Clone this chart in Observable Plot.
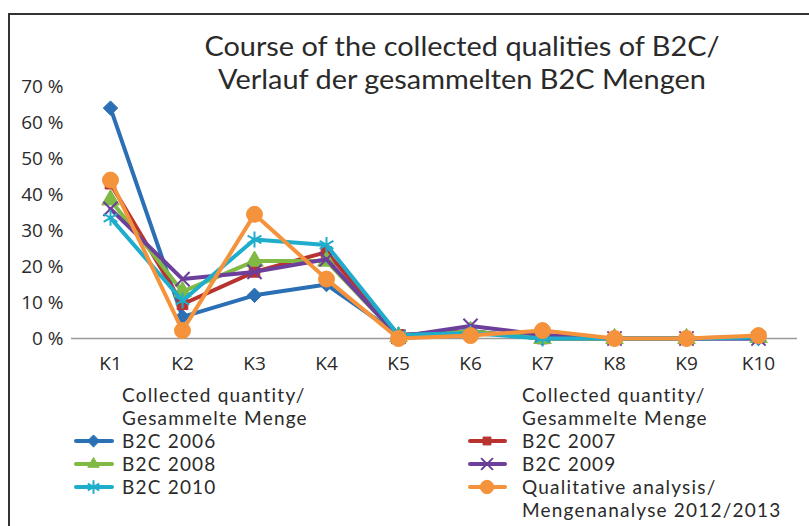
<!DOCTYPE html>
<html>
<head>
<meta charset="utf-8">
<script src="https://cdn.jsdelivr.net/npm/d3@7"></script>
<script src="https://cdn.jsdelivr.net/npm/@observablehq/plot@0.6"></script>
<style>
  html, body { margin: 0; padding: 0; background: #fff; }
  #wrap { position: relative; width: 809px; height: 526px; overflow: hidden; font-family: Lato, "Open Sans", sans-serif; color: #2a2a2a; }
  #frame { position: absolute; left: 8px; top: 13px; width: 900px; height: 600px; border: 2px solid #333; box-sizing: border-box; }
  #title { position: absolute; left: 0; width: 924px; top: 30px; text-align: center; font-family: Lato, sans-serif; font-size: 27px; line-height: 32.5px; transform-origin: 462px 0; transform: scaleX(1.07); }
  #chart { position: absolute; left: 0; top: 0; }
  .leg { position: absolute; font-family: Lato, sans-serif; font-size: 19px; line-height: 23px; letter-spacing: 1.2px; }
  .leg .row { display: flex; align-items: center; height: 23px; white-space: nowrap; }
  .leg svg { flex: none; }
</style>
</head>
<body>
<div id="wrap">
  <div id="frame"></div>
  <div id="chart"></div>
  <div id="title">Course of the collected qualities of B2C/<br>Verlauf der gesammelten B2C Mengen</div>
  <div class="leg" id="legL" style="left:74px; top:383px;"></div>
  <div class="leg" id="legR" style="left:468px; top:383px;"></div>
</div>
<script>
const categories = ["K1", "K2", "K3", "K4", "K5", "K6", "K7", "K8", "K9", "K10"];
const seriesNames = ["B2C 2006", "B2C 2007", "B2C 2008", "B2C 2009", "B2C 2010", "Qualitative analysis/ Mengenanalyse 2012/2013"];
const b2c2006 = [64, 6, 12, 15, 1, 2, 0, 0, 0, 0];
const b2c2007 = [43, 9.5, 18.5, 24, 1, 2, 0, 0, 0, 0.5];
const b2c2008 = [38.5, 13, 21.5, 21.5, 0.5, 2, 0, 0, 0, 0.3];
const b2c2009 = [36, 16.5, 18.5, 22, 0.5, 3.5, 1, 0, 0, 0];
const b2c2010 = [33.5, 10.5, 27.5, 26, 1, 1.5, 0, 0, 0, 0.3];
const qualitative = [44, 2.2, 34.5, 16.5, 0, 0.8, 2.2, 0, 0, 0.8];
const yTicks = [0, 10, 20, 30, 40, 50, 60, 70];
const legendHeader = ["Collected quantity/", "Gesammelte Menge"];

const styles = [
  {color: "#2b70b5", symbol: "diamond2", r: 6.5, filled: true},
  {color: "#b83330", symbol: "square", r: 6, filled: true},
  {color: "#80b944", symbol: "triangle", r: 6.5, filled: true},
  {color: "#6b3f9b", symbol: "times", r: 6.5, filled: false},
  {color: "#1eaecb", symbol: "asterisk", r: 7.5, filled: false},
  {color: "#f5933d", symbol: "circle", r: 8, filled: true}
];
const values = [b2c2006, b2c2007, b2c2008, b2c2009, b2c2010, qualitative];

const marks = [
  Plot.ruleY([0], {stroke: "#9a9a9a", strokeWidth: 1.5}),
  Plot.ruleX([0], {frameAnchor: "left", stroke: "#9a9a9a", strokeWidth: 1.5})
];
values.forEach((vals, i) => {
  const data = categories.map((c, j) => ({k: c, v: vals[j]}));
  const s = styles[i];
  marks.push(Plot.line(data, {x: "k", y: "v", stroke: s.color, strokeWidth: 4, strokeLinejoin: "round"}));
  marks.push(Plot.dot(data, {x: "k", y: "v", symbol: () => s.symbol, r: s.r,
    fill: s.filled ? s.color : "none", stroke: s.color, strokeWidth: s.filled ? 1 : 2}));
});

const chart = Plot.plot({
  width: 809, height: 390,
  marginLeft: 71, marginRight: 12, marginTop: 86, marginBottom: 52,
  style: {fontFamily: "'Open Sans', Lato, sans-serif", fontSize: "19px", color: "#2a2a2a", background: "transparent"},
  x: {type: "point", domain: categories, padding: 0.5, label: null},
  y: {domain: [0, 70], label: null},
  symbol: {type: "identity"},
  marks: [
    Plot.axisX({tickSize: 0, tickPadding: 18, fontSize: 19}),
    Plot.axisY({ticks: yTicks, tickFormat: d => d + " %", tickSize: 0, tickPadding: 8, fontSize: 19}),
    ...marks
  ]
});
document.getElementById("chart").appendChild(chart);

function swatch(s, w, gap) {
  const svg = d3.create("svg").attr("width", w + gap).attr("height", 20);
  svg.append("line").attr("x1", 2).attr("x2", w - 1).attr("y1", 10).attr("y2", 10)
    .attr("stroke", s.color).attr("stroke-width", 4).attr("stroke-linecap", "round");
  const typeMap = {diamond2: d3.symbolDiamond2, square: d3.symbolSquare2, triangle: d3.symbolTriangle2, times: d3.symbolTimes, asterisk: d3.symbolAsterisk, circle: d3.symbolCircle};
  const sym = d3.symbol(typeMap[s.symbol], Math.PI * s.r * s.r * 0.7);
  svg.append("path").attr("d", sym()).attr("transform", `translate(${w / 2},10)`)
    .attr("fill", s.filled ? s.color : "none").attr("stroke", s.color).attr("stroke-width", s.filled ? 1 : 2);
  return svg.node();
}
function buildLegend(el, idxs, w, gap) {
  const pad = (w + gap) + "px";
  legendHeader.forEach(t => {
    const d = document.createElement("div"); d.className = "row"; d.style.paddingLeft = pad; d.textContent = t; el.appendChild(d);
  });
  idxs.forEach(i => {
    const parts = seriesNames[i].split("/ ");
    const row = document.createElement("div"); row.className = "row";
    row.appendChild(swatch(styles[i], w, gap));
    const sp = document.createElement("span"); sp.textContent = parts.length > 1 ? parts[0] + "/" : parts[0];
    row.appendChild(sp); el.appendChild(row);
    if (parts.length > 1) {
      const r2 = document.createElement("div"); r2.className = "row"; r2.style.paddingLeft = pad; r2.textContent = parts[1]; el.appendChild(r2);
    }
  });
}
buildLegend(document.getElementById("legL"), [0, 2, 4], 39, 9);
buildLegend(document.getElementById("legR"), [1, 3, 5], 38, 16);
</script>
</body>
</html>
